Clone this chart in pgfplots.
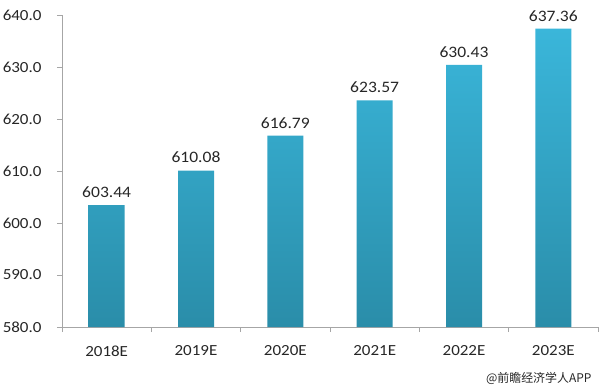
\documentclass[border=0pt]{standalone}
\usepackage{pgfplots}
\pgfplotsset{compat=1.18}
\usepackage{fontspec}
\setmainfont[FakeStretch=1.1]{Carlito}
\newfontfamily\cjk{Noto Sans CJK SC}
\definecolor{bartop}{HTML}{3AB6DA}
\definecolor{barbot}{HTML}{2A8DA9}
\definecolor{axgray}{HTML}{A6A6A6}
\definecolor{txt}{HTML}{262626}
\begin{document}
\begin{tikzpicture}
\path[use as bounding box] (-62bp,-62bp) rectangle (538bp,327bp);
\begin{axis}[
  at={(0,0)}, anchor=south west,
  scale only axis, width=536bp, height=312bp,
  xmin=-0.5, xmax=5.5, ymin=580, ymax=640,
  ytick={580,590,...,640},
  xtick={0,...,5},
  xticklabels={2018E,2019E,2020E,2021E,2022E,2023E},
  minor xtick={-0.5,0.5,...,5.5},
  axis x line*=bottom, axis y line*=left,
  axis line style={axgray, line width=0.8pt, -},
  tick align=outside,
  major tick length=5bp, minor tick length=5bp,
  x tick style={draw=none},
  minor x tick style={draw=axgray, line width=0.8pt},
  y tick style={draw=axgray, line width=0.8pt},
  yticklabel style={xshift=-12bp, /pgf/number format/fixed, /pgf/number format/fixed zerofill, /pgf/number format/precision=1, /pgf/number format/assume math mode=true},
  ticklabel style={font=\fontsize{15.5}{17}\selectfont, text=txt},
  xticklabel style={yshift=-10bp},
  ybar, bar width=36bp,
  nodes near coords,
  nodes near coords style={font=\fontsize{16}{18}\selectfont, text=txt, yshift=4bp,
    /pgf/number format/fixed, /pgf/number format/fixed zerofill, /pgf/number format/precision=2, /pgf/number format/assume math mode=true},
  clip=false,
]
\addplot[draw=none, top color=bartop, bottom color=barbot] coordinates {
  (0,603.44) (1,610.08) (2,616.79) (3,623.57) (4,630.43) (5,637.36)};
\end{axis}
\node[anchor=east, font=\cjk\fontsize{12}{14}\selectfont, text=txt] at (533bp,-51bp) {@前瞻经济学人APP};
\end{tikzpicture}
\end{document}
